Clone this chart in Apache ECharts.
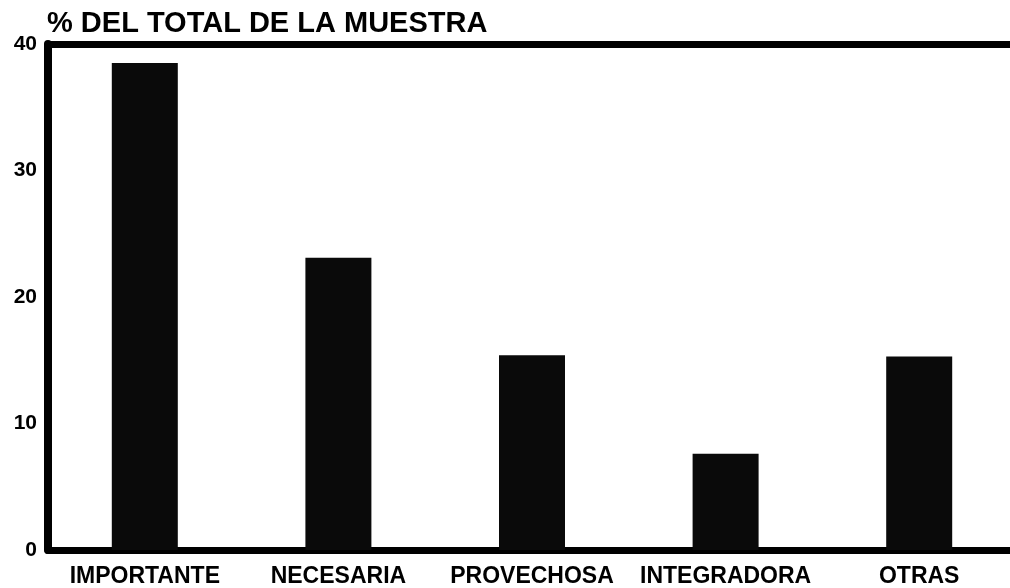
<!DOCTYPE html>
<html>
<head>
<meta charset="utf-8">
<script src="https://cdn.jsdelivr.net/npm/echarts@6/dist/echarts.min.js"></script>
<style>
  html, body { margin: 0; padding: 0; background: #fff; overflow: hidden; }
  /* the plot area continues a little past the right edge of the page */
  #chart { width: 1024px; height: 588px; }
</style>
</head>
<body>
<div id="chart"></div>
<script>
// Distribución de respuestas, en % del total de la muestra
const categories = ['IMPORTANTE', 'NECESARIA', 'PROVECHOSA', 'INTEGRADORA', 'OTRAS'];
const percentages = [38.5, 23.1, 15.4, 7.6, 15.3];
const yTicks = { min: 0, max: 40, interval: 10 };
const titleText = '% DEL TOTAL DE LA MUESTRA';

const FONT = '"Liberation Sans", Arial, Helvetica, sans-serif';
const INK = '#000000';

const chart = echarts.init(document.getElementById('chart'), null, { renderer: 'canvas' });

chart.setOption({
  backgroundColor: '#ffffff',
  animation: false,
  title: {
    text: titleText,
    left: 42,
    top: 4,
    textStyle: { fontFamily: FONT, fontSize: 29, fontWeight: 'bold', color: INK }
  },
  grid: { left: 48, width: 968, top: 44, bottom: 37, containLabel: false },
  xAxis: [
    {
      type: 'category',
      data: categories,
      position: 'bottom',
      axisLine: { show: true, lineStyle: { color: INK, width: 7 } },
      axisTick: { show: false },
      axisLabel: {
        interval: 0,
        margin: 15,
        fontFamily: FONT,
        fontSize: 23,
        fontWeight: 'bold',
        color: INK
      },
      splitLine: { show: false }
    },
    {
      // frame line along the top of the plot
      type: 'category',
      data: categories,
      position: 'top',
      axisLine: { show: true, lineStyle: { color: INK, width: 7 } },
      axisTick: { show: false },
      axisLabel: { show: false },
      splitLine: { show: false }
    }
  ],
  yAxis: {
    type: 'value',
    min: yTicks.min,
    max: yTicks.max,
    interval: yTicks.interval,
    axisLine: { show: true, lineStyle: { color: INK, width: 8 } },
    axisTick: { show: false },
    splitLine: { show: false },
    axisLabel: {
      margin: 11,
      fontFamily: FONT,
      fontSize: 21,
      fontWeight: 'bold',
      color: INK
    }
  },
  series: [
    {
      type: 'bar',
      data: percentages,
      barWidth: 66,
      itemStyle: { color: '#0a0a0a' },
      z: 1
    }
  ]
});
</script>
</body>
</html>
